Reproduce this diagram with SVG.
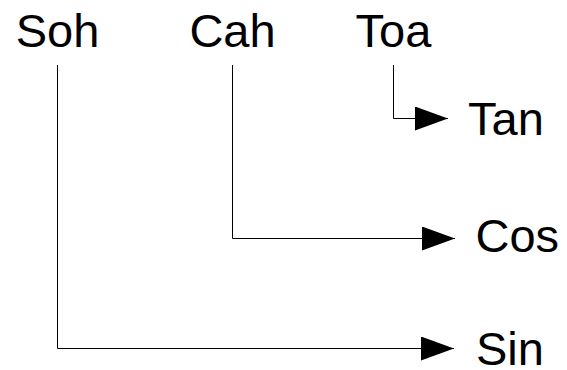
<svg xmlns="http://www.w3.org/2000/svg" width="567" height="370" viewBox="0 0 567 370">
<style>
.t{font-family:"Liberation Sans",Arial,sans-serif;font-size:47px;fill:#000}
.c{fill:none;stroke:#000;stroke-width:1}
</style>
<defs>
<marker id="ah" markerUnits="userSpaceOnUse" markerWidth="34" markerHeight="25" refX="33" refY="12" orient="auto" viewBox="0 0 34 25">
<path d="M0,0 L33,12 L0,24 Z" fill="#000"/>
</marker>
</defs>
<rect width="567" height="370" fill="#fff"/>
<g id="connectors">
<path class="c" d="M57.5,65 V348.5 H454" marker-end="url(#ah)"/>
<path class="c" d="M232.5,65 V238.5 H455" marker-end="url(#ah)"/>
<path class="c" d="M393.5,65 V118.5 H448" marker-end="url(#ah)"/>
</g>
<g id="soh"><text class="t" x="57.5" y="46.5" text-anchor="middle">Soh</text></g>
<g id="cah"><text class="t" x="232.5" y="46.5" text-anchor="middle">Cah</text></g>
<g id="toa"><text class="t" x="393.5" y="46.5" text-anchor="middle">Toa</text></g>
<g id="tan"><text class="t" x="468" y="135">Tan</text></g>
<g id="cos"><text class="t" x="475.5" y="252">Cos</text></g>
<g id="sin"><text class="t" x="476" y="365">Sin</text></g>
</svg>
